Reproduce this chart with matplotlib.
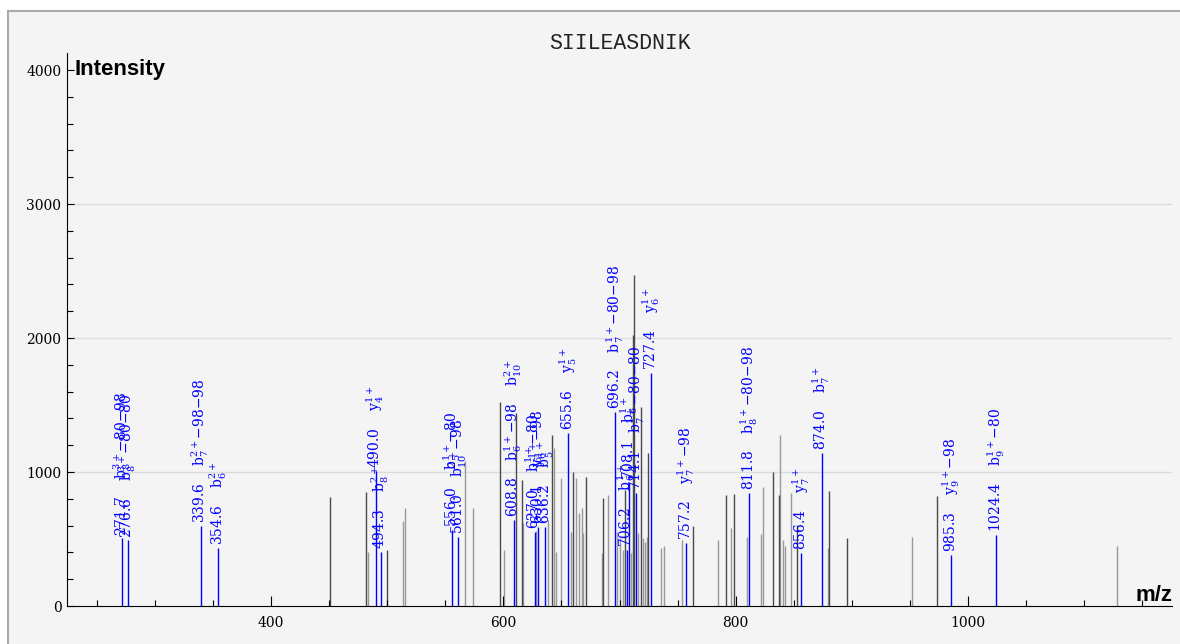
import matplotlib
matplotlib.use("Agg")
import matplotlib.pyplot as plt
from matplotlib.patches import Rectangle
from matplotlib.ticker import MultipleLocator

plt.rcParams['mathtext.fontset'] = 'dejavuserif'

title = "SIILEASDNIK"

# matched fragment peaks (blue, labelled)
match_mz = [271.7, 276.6, 339.6, 354.6, 490.0, 494.3, 556.0, 561.0, 608.8,
            627.0, 630.1, 636.2, 655.6, 696.2, 706.2, 708.1, 714.1, 727.4,
            757.2, 811.8, 856.4, 874.0, 985.3, 1024.4]
match_int = [505, 490, 600, 433, 1010, 405, 567, 517, 642,
             555, 590, 590, 1291, 1450, 420, 920, 843, 1739,
             470, 843, 395, 1142, 380, 530]
match_ion = [r"$\mathrm{b}_8^{3+}$−80−98", r"$\mathrm{b}_8^{3+}$−80−80",
             r"$\mathrm{b}_7^{2+}$−98−98", r"$\mathrm{b}_6^{2+}$",
             r"$\mathrm{y}_4^{1+}$", r"$\mathrm{b}_8^{2+}$",
             r"$\mathrm{b}_5^{1+}$−80", r"$\mathrm{b}_{10}^{2+}$−98",
             r"$\mathrm{b}_6^{1+}$−98    $\mathrm{b}_{10}^{2+}$",
             r"$\mathrm{b}_6^{1+}$−80", r"$\mathrm{y}_6^{1+}$−98",
             r"$\mathrm{b}_5^{1+}$", r"$\mathrm{y}_5^{1+}$",
             r"$\mathrm{b}_7^{1+}$−80−98", r"$\mathrm{b}_6^{1+}$",
             r"$\mathrm{b}_6^{1+}$", r"$\mathrm{b}_7^{1+}$−80−80",
             r"$\mathrm{y}_6^{1+}$", r"$\mathrm{y}_7^{1+}$−98",
             r"$\mathrm{b}_8^{1+}$−80−98", r"$\mathrm{y}_7^{1+}$",
             r"$\mathrm{b}_7^{1+}$", r"$\mathrm{y}_9^{1+}$−98",
             r"$\mathrm{b}_9^{1+}$−80"]

# unmatched peaks, darker ones
dark_mz = [450.8, 481.8, 499.9, 597.4, 610.9, 615.8, 641.6, 660.2, 671.2,
           686.1, 704.7, 711.9, 712.7, 718.1, 724.8, 763.0, 791.7, 798.8,
           832.4, 837.5, 853.1, 880.6, 896.1, 973.7]
dark_int = [815, 853, 418, 1525, 1440, 940, 1276, 1002, 965,
            806, 866, 2022, 2470, 1487, 1142, 597, 828, 836,
            1002, 828, 605, 858, 505, 821]

# unmatched peaks, lighter ones
light_mz = [483.5, 513.6, 515.3, 567.0, 573.9, 600.8, 617.2, 628.1, 638.4,
            643.2, 645.3, 649.6, 658.0, 662.5, 665.4, 667.5, 668.8, 684.7,
            689.8, 698.1, 700.4, 703.3, 710.3, 715.9, 720.2, 721.9, 723.4,
            736.1, 738.1, 753.5, 784.5, 796.0, 809.5, 821.5, 823.8, 838.2,
            841.0, 842.5, 847.4, 879.7, 951.5, 1128.3]
light_int = [405, 637, 734, 1080, 735, 418, 620, 560, 640,
             1180, 405, 955, 555, 955, 694, 731, 545, 395,
             828, 555, 507, 418, 395, 545, 507, 480, 515,
             433, 448, 493, 493, 582, 517, 537, 890, 1276,
             493, 448, 841, 433, 517, 448]

grid_y = [1000, 2000, 3000]

fig = plt.figure(figsize=(11.8, 6.44), dpi=100)
fig.patch.set_facecolor('white')
fig.patches.append(Rectangle((8 / 1180, -0.05), 1.2, 1 - 11 / 644 + 0.05,
                             transform=fig.transFigure, facecolor='#f4f4f4',
                             edgecolor='#aaaaaa', lw=1.5, zorder=-5))

ax = fig.add_axes([67 / 1180, 38 / 644, 1105 / 1180, 553 / 644])
ax.set_facecolor('none')

ax.hlines(grid_y, 224.4, 1175.6, colors='#dcdcdc', lw=1, zorder=0)
ax.vlines(light_mz, 0, light_int, colors='#999999', lw=1, zorder=1)
ax.vlines(dark_mz, 0, dark_int, colors='#4a4a4a', lw=1, zorder=1)
ax.vlines(match_mz, 0, match_int, colors='#0000ff', lw=1, zorder=2)

for mz, it, ion in zip(match_mz, match_int, match_ion):
    ax.annotate(f"{mz:.1f}    {ion}", xy=(mz, it), xytext=(0, 2),
                textcoords='offset points', rotation=90, ha='center',
                va='bottom', color='#0000ff', fontsize=10,
                family='DejaVu Serif', zorder=3)

ax.set_xlim(224.4, 1175.6)
ax.set_ylim(0, 4127)

for s in ['top', 'right']:
    ax.spines[s].set_visible(False)
for s in ['left', 'bottom']:
    ax.spines[s].set_linewidth(0.8)
    ax.spines[s].set_color('black')

ax.xaxis.set_major_locator(MultipleLocator(200))
ax.xaxis.set_minor_locator(MultipleLocator(50))
ax.yaxis.set_major_locator(MultipleLocator(1000))
ax.yaxis.set_minor_locator(MultipleLocator(200))
ax.tick_params(axis='x', which='major', direction='in', length=7, width=0.8, pad=7)
ax.tick_params(axis='x', which='minor', direction='in', length=4.3, width=0.8)
ax.tick_params(axis='y', which='major', direction='in', length=5, width=0.8, pad=4)
ax.tick_params(axis='y', which='minor', direction='in', length=4, width=0.8)
for lab in ax.get_xticklabels() + ax.get_yticklabels():
    lab.set_family('DejaVu Serif')
    lab.set_fontsize(10)

fig.text(619.5 / 1180, 1 - 49 / 644, title, ha='center', va='baseline',
         family='Liberation Mono', fontsize=15.5, color='#222222')
fig.text(75 / 1180, 1 - 75 / 644, "Intensity", ha='left', va='baseline',
         family='Liberation Sans', fontweight='bold', fontsize=16)
fig.text(1172 / 1180, 1 - 601 / 644, "m/z", ha='right', va='baseline',
         family='Liberation Sans', fontweight='bold', fontsize=16)

fig.savefig("out.png", dpi=100)
